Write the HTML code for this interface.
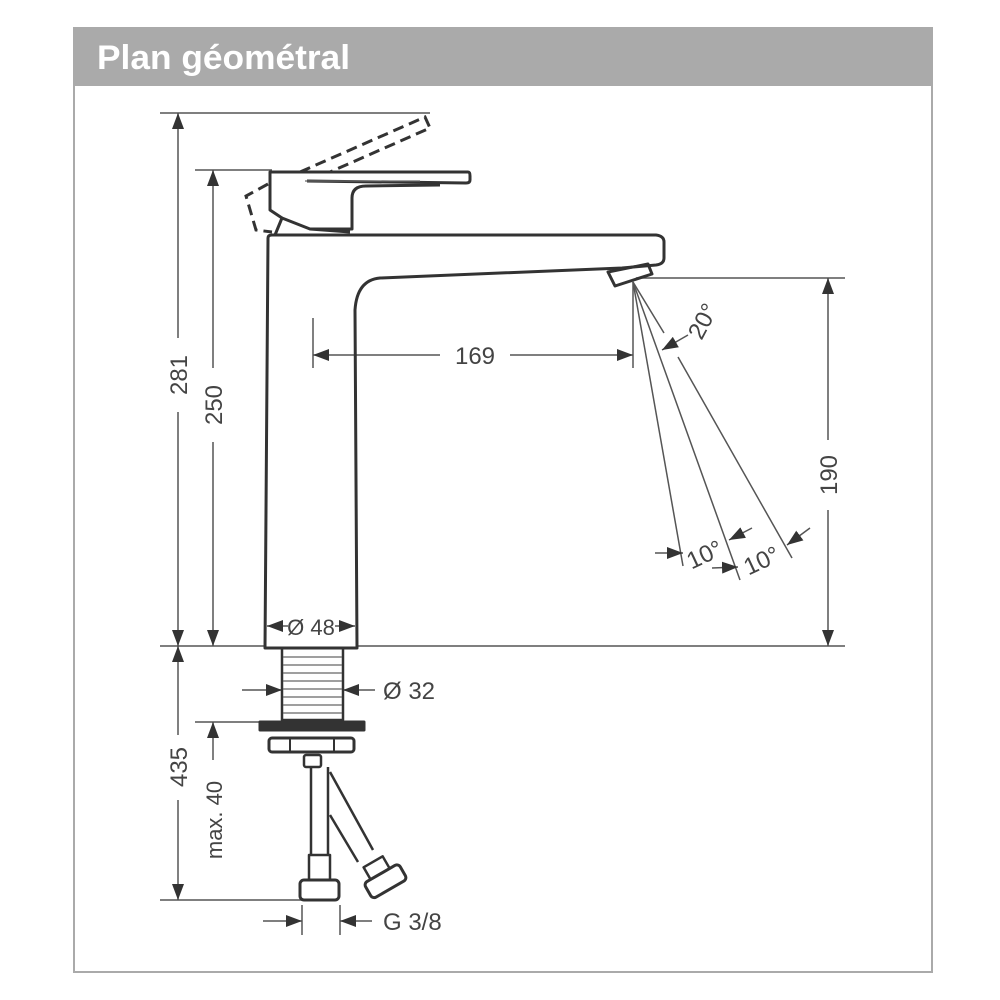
<!DOCTYPE html>
<html><head><meta charset="utf-8"><style>
html,body{margin:0;padding:0;background:#fff;width:1000px;height:1000px;overflow:hidden}
svg{display:block}
text{font-family:"Liberation Sans",sans-serif;fill:#444}
</style></head><body>
<svg width="1000" height="1000" viewBox="0 0 1000 1000">
<defs>
<marker id="a" viewBox="0 0 16 12" refX="16" refY="6" markerWidth="16" markerHeight="12" markerUnits="userSpaceOnUse" orient="auto"><path d="M0,0 L16,6 L0,12 Z" fill="#333"/></marker>
</defs>
<rect x="74" y="28" width="858" height="944" fill="none" stroke="#aaa" stroke-width="2"/>
<rect x="73" y="27" width="860" height="59" fill="#aaa"/>
<text x="97" y="69" textLength="253" lengthAdjust="spacingAndGlyphs" style="fill:#fff;font-weight:bold;font-size:34px">Plan géométral</text>

<g stroke="#555" stroke-width="1.5" fill="none">
<line x1="160" y1="113" x2="430" y2="113"/>
<line x1="195" y1="170" x2="272" y2="170"/>
<line x1="160" y1="646" x2="265" y2="646"/>
<line x1="357" y1="646" x2="845" y2="646"/>
<line x1="636" y1="278" x2="845" y2="278"/>
<line x1="195" y1="722" x2="262" y2="722"/>
<line x1="160" y1="900" x2="302" y2="900"/>
<line x1="313" y1="318" x2="313" y2="368"/>
<line x1="633" y1="282" x2="633" y2="368"/>
<line x1="302" y1="905" x2="302" y2="935"/>
<line x1="340" y1="905" x2="340" y2="935"/>
<line x1="178" y1="338" x2="178" y2="113" marker-end="url(#a)"/>
<line x1="178" y1="412" x2="178" y2="646" marker-end="url(#a)"/>
<line x1="213" y1="368" x2="213" y2="170" marker-end="url(#a)"/>
<line x1="213" y1="442" x2="213" y2="646" marker-end="url(#a)"/>
<line x1="178" y1="735" x2="178" y2="646" marker-end="url(#a)"/>
<line x1="178" y1="800" x2="178" y2="900" marker-end="url(#a)"/>
<line x1="213" y1="760" x2="213" y2="722" marker-end="url(#a)"/>
<line x1="828" y1="440" x2="828" y2="278" marker-end="url(#a)"/>
<line x1="828" y1="510" x2="828" y2="646" marker-end="url(#a)"/>
<line x1="440" y1="355" x2="313" y2="355" marker-end="url(#a)"/>
<line x1="510" y1="355" x2="633" y2="355" marker-end="url(#a)"/>
<line x1="288" y1="626" x2="267" y2="626" marker-end="url(#a)"/>
<line x1="335" y1="626" x2="355" y2="626" marker-end="url(#a)"/>
<line x1="242" y1="690" x2="282" y2="690" marker-end="url(#a)"/>
<line x1="375" y1="690" x2="343" y2="690" marker-end="url(#a)"/>
<line x1="263" y1="921" x2="302" y2="921" marker-end="url(#a)"/>
<line x1="372" y1="921" x2="340" y2="921" marker-end="url(#a)"/>
<line x1="633" y1="282" x2="683" y2="566"/>
<line x1="633" y1="282" x2="740" y2="580"/>
<line x1="633" y1="282" x2="664" y2="333"/>
<line x1="678" y1="357" x2="792" y2="558"/>
<line x1="688" y1="335" x2="662" y2="350" marker-end="url(#a)"/>
<line x1="655" y1="553" x2="683" y2="553" marker-end="url(#a)"/>
<line x1="712" y1="568" x2="738" y2="567" marker-end="url(#a)"/>
<line x1="752" y1="528" x2="729" y2="540" marker-end="url(#a)"/>
<line x1="810" y1="528" x2="787" y2="545" marker-end="url(#a)"/>
</g>

<g font-size="24">
<text transform="translate(187,375) rotate(-90)" text-anchor="middle">281</text>
<text transform="translate(222,405) rotate(-90)" text-anchor="middle">250</text>
<text transform="translate(187,767) rotate(-90)" text-anchor="middle">435</text>
<text transform="translate(222,820) rotate(-90)" text-anchor="middle" font-size="22">max. 40</text>
<text transform="translate(837,475) rotate(-90)" text-anchor="middle">190</text>
<text x="475" y="364" text-anchor="middle">169</text>
<text x="311" y="635" text-anchor="middle" font-size="22">Ø 48</text>
<text x="383" y="699">Ø 32</text>
<text x="383" y="930">G 3/8</text>
<text transform="translate(710,325) rotate(-62)" text-anchor="middle">20°</text>
<text transform="translate(708,562) rotate(-25)" text-anchor="middle">10°</text>
<text transform="translate(765,568) rotate(-25)" text-anchor="middle">10°</text>
</g>

<g stroke="#333" stroke-width="3" fill="none" stroke-linejoin="round">
<path d="M265,648 L268,238 Q268,235 272,235 L656,235 Q664,236 664,242 L664,258 Q664,264 656,265 L622,268 L380,278 Q357,280 355,310 L357,648 Z"/>
<path d="M608,272 L648,264 L652,274 L615,286 Z"/>
<path d="M275,235 L282,218 L270,210 L270,172 L468,172 Q470,172 470,176 L470,180 Q470,183 466,183 L307,181"/>
<path d="M282,218 L310,229 L352,229 L352,198 Q352,186 366,186 L440,185"/>
<path d="M310,229 L350,232"/>
<rect x="282" y="648" width="61" height="72" stroke-width="2.5"/>
<rect x="260" y="722" width="104" height="8" fill="#333"/>
<rect x="269" y="738" width="85" height="14" rx="3"/>
<line x1="290" y1="738" x2="290" y2="752" stroke-width="2"/>
<line x1="334" y1="738" x2="334" y2="752" stroke-width="2"/>
<rect x="304" y="755" width="17" height="12" rx="2" stroke-width="2.5"/>
<line x1="311" y1="767" x2="311" y2="855" stroke-width="2.5"/>
<line x1="328" y1="767" x2="328" y2="855" stroke-width="2.5"/>
<rect x="309" y="855" width="21" height="25" stroke-width="2.5"/>
<rect x="300" y="880" width="39" height="20" rx="4" stroke-width="3"/>
<line x1="330" y1="772" x2="373" y2="850" stroke-width="2.5"/>
<line x1="330" y1="815" x2="358" y2="862" stroke-width="2.5"/>
<g transform="translate(379,870) rotate(-30)">
<rect x="-12" y="-10" width="22" height="14" stroke-width="2.5"/>
<rect x="-20" y="4" width="40" height="18" rx="4"/>
</g>
</g>
<g stroke="#666" stroke-width="1.2">
<line x1="283" y1="657" x2="342" y2="657"/><line x1="283" y1="665" x2="342" y2="665"/>
<line x1="283" y1="673" x2="342" y2="673"/><line x1="283" y1="681" x2="342" y2="681"/>
<line x1="283" y1="689" x2="342" y2="689"/><line x1="283" y1="697" x2="342" y2="697"/>
<line x1="283" y1="705" x2="342" y2="705"/><line x1="283" y1="713" x2="342" y2="713"/>
<line x1="305" y1="181" x2="420" y2="181"/>
</g>
<g stroke="#333" stroke-width="3" fill="none" stroke-dasharray="11,6">
<path d="M300,172 L425,117 L430,128 L330,172"/>
<path d="M268,184 L246,196 L256,230 L272,232"/>
</g>
</svg>
</body></html>
